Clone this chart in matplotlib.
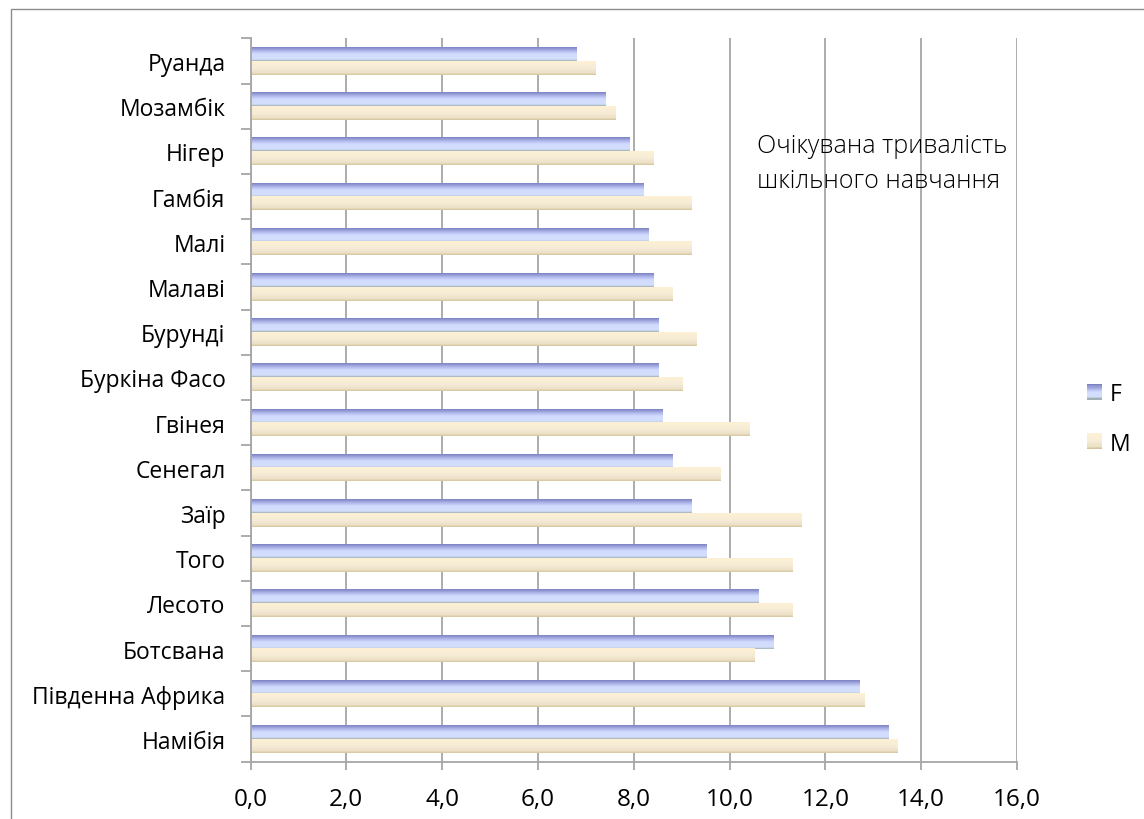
import matplotlib
matplotlib.use("Agg")
import matplotlib.pyplot as plt
import numpy as np
from matplotlib.colors import LinearSegmentedColormap
from matplotlib.patches import Rectangle
from matplotlib.legend_handler import HandlerBase
from matplotlib.ticker import FixedLocator, FuncFormatter

plt.rcParams['font.family'] = ['Open Sans', 'DejaVu Sans']

# data, listed bottom to top as in the original sheet
countries = ["Намібія", "Південна Африка", "Ботсвана", "Лесото", "Того", "Заїр",
             "Сенегал", "Гвінея", "Буркіна Фасо", "Бурунді", "Малаві", "Малі",
             "Гамбія", "Нігер", "Мозамбік", "Руанда"]
female = [13.3, 12.7, 10.9, 10.6, 9.5, 9.2, 8.8, 8.6, 8.5, 8.5, 8.4, 8.3, 8.2, 7.9, 7.4, 6.8]
male = [13.5, 12.8, 10.5, 11.3, 11.3, 11.5, 9.8, 10.4, 9.0, 9.3, 8.8, 9.2, 9.2, 8.4, 7.6, 7.2]
series_names = ["F", "M"]
x_ticks = [0, 2, 4, 6, 8, 10, 12, 14, 16]
note = "Очікувана тривалість\nшкільного навчання"

# gradients, top -> bottom
cmap_f = LinearSegmentedColormap.from_list("f", [(0, "#7c82c2"), (0.3, "#b4bcee"), (0.5, "#d2dcfd"),
                                                 (0.88, "#d4defc"), (1.0, "#9fb1b4")])
cmap_m = LinearSegmentedColormap.from_list("m", [(0, "#fdf0d4"), (0.5, "#f6ecd7"), (0.85, "#ece1c6"),
                                                 (1.0, "#d3c49c")])
grey = "#a6a6a6"


def grad_img(cmap, n=64):
    return cmap(np.linspace(0, 1, n))[:, None, :3]


class GradientHandler(HandlerBase):
    def __init__(self, cmap):
        super().__init__()
        self.cmap = cmap

    def create_artists(self, legend, orig_handle, xdescent, ydescent, width, height, fontsize, trans):
        n = 14
        arts = []
        for i in range(n):
            r = Rectangle((-xdescent, -ydescent + height * (n - 1 - i) / n), width, height / n + 0.3,
                          facecolor=self.cmap(i / (n - 1)), lw=0, transform=trans)
            arts.append(r)
        return arts


fig = plt.figure(figsize=(11.44, 8.2), dpi=100)
ax = fig.add_axes([250.5 / 1144, 1 - 762.6 / 820, (1017 - 250.5) / 1144, (762.6 - 39.4) / 820])

y = np.arange(len(countries))
h = 0.3
bars_f = ax.barh(y + h / 2, female, height=h, facecolor="none", edgecolor="none", zorder=2)
bars_m = ax.barh(y - h / 2, male, height=h, facecolor="none", edgecolor="none", zorder=2)

for bars, cm in [(bars_f, cmap_f), (bars_m, cmap_m)]:
    img = grad_img(cm)
    for p in bars:
        x0, y0 = p.get_xy()
        ax.imshow(img, extent=(x0, x0 + p.get_width(), y0, y0 + p.get_height()),
                  aspect="auto", interpolation="bilinear", zorder=2)

ax.set_xlim(0, 16)
ax.set_ylim(-0.5, len(countries) - 0.5)

ax.xaxis.set_major_locator(FixedLocator(x_ticks))
ax.xaxis.set_major_formatter(FuncFormatter(lambda v, pos: f"{v:.1f}".replace(".", ",")))
ax.tick_params(axis="x", length=6, width=1.3, color=grey, labelsize=17.5, pad=12)
ax.grid(axis="x", color=grey, lw=1.3, zorder=0)
ax.set_axisbelow(True)

ax.yaxis.set_major_locator(FixedLocator(np.arange(len(countries) + 1) - 0.5))
ax.yaxis.set_major_formatter(FuncFormatter(lambda v, pos: ""))
ax.yaxis.set_minor_locator(FixedLocator(y))
ax.set_yticklabels(countries, minor=True)
ax.tick_params(axis="y", which="major", length=7, width=1.3, color=grey)
ax.tick_params(axis="y", which="minor", length=0, labelsize=16.5, pad=18)

for s in ["top", "right"]:
    ax.spines[s].set_visible(False)
for s in ["left", "bottom"]:
    ax.spines[s].set_color(grey)
    ax.spines[s].set_linewidth(1.3)

fig.text(757 / 1144, 1 - 134 / 820, note, fontsize=18, fontweight="light", va="top", ha="left",
         linespacing=1.5)

handles = [Rectangle((0, 0), 1, 1), Rectangle((0, 0), 1, 1, label="M")]
leg = fig.legend(handles, series_names, loc="center left", bbox_to_anchor=(1066 / 1144, 1 - 420 / 820),
                 frameon=False, fontsize=16.5, handlelength=0.65, handleheight=0.65, handletextpad=0.35,
                 labelspacing=1.1,
                 handler_map={handles[0]: GradientHandler(cmap_f), handles[1]: GradientHandler(cmap_m)})

fig.patches.append(Rectangle((11 / 1144, -0.1), 2, 1.1 - 10 / 820, transform=fig.transFigure,
                             fill=False, edgecolor="#8c8c8c", lw=1))

fig.savefig("out.png", dpi=100)
